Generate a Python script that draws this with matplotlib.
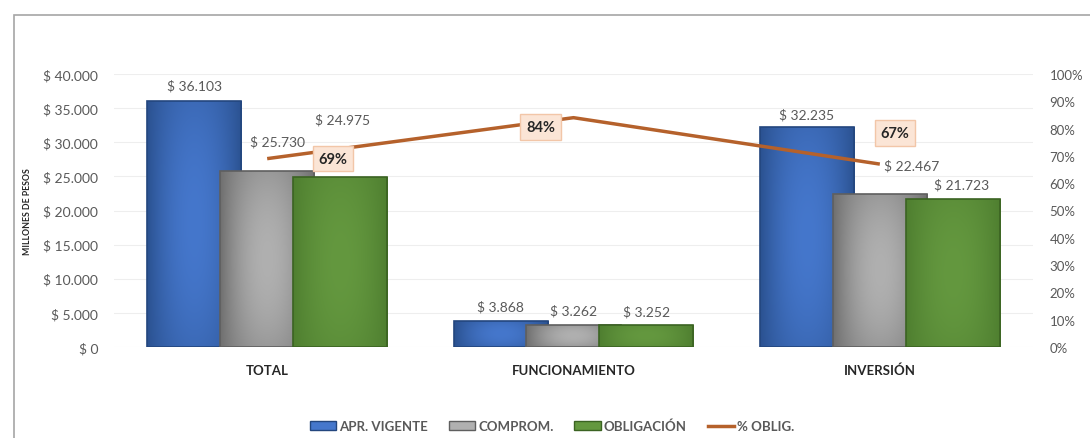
import numpy as np
import matplotlib
matplotlib.use("Agg")
import matplotlib.pyplot as plt
from matplotlib.patches import Rectangle, Patch
from matplotlib.lines import Line2D
from matplotlib.colors import to_rgb

plt.rcParams['font.family'] = ['Lato', 'DejaVu Sans']

# ---------------- data ----------------
categories = ["TOTAL", "FUNCIONAMIENTO", "INVERSIÓN"]
apr_vigente = [36103, 3868, 32235]
comprom = [25730, 3262, 22467]
obligacion = [24975, 3252, 21723]
pct_oblig = [0.69, 0.84, 0.67]
series_names = ["APR. VIGENTE", "COMPROM.", "OBLIGACIÓN"]
line_name = "% OBLIG."
y_ticks = [0, 5000, 10000, 15000, 20000, 25000, 30000, 35000, 40000]
pct_ticks = [0.0, 0.1, 0.2, 0.3, 0.4, 0.5, 0.6, 0.7, 0.8, 0.9, 1.0]

# ---------------- style ----------------
W, H = 1090, 439
fig = plt.figure(figsize=(W / 100, H / 100), dpi=100)
fig.patch.set_facecolor("white")
ax = fig.add_axes([114 / W, 1 - 348 / H, (1033 - 114) / W, (348 - 75) / H])

text_col = "#595959"
dark_text = "#262626"
bar_styles = [
    dict(dark="#2b5291", light="#4577cc", edge="#23467e"),
    dict(dark="#707070", light="#b0b0b0", edge="#5f5f5f"),
    dict(dark="#4f7f30", light="#64983f", edge="#3b6322"),
]
line_col = "#b5612b"
offsets = [-0.238, 0.0, 0.238]
width = 0.307

# label offsets in pixels (dx, dy) from bar top-centre
label_offsets = [
    [(0, 15), (0, 14), (0, 13)],
    [(10, 30), (0, 14), (32, 28)],
    [(2, 57), (0, 14), (9, 14)],
]
pct_label_offsets = [(66, 0), (-33, -9), (15, 31)]

x = np.arange(len(categories))
all_series = [apr_vigente, comprom, obligacion]

def gradient_img(dark, light, n=64):
    d = np.array(to_rgb(dark))
    l = np.array(to_rgb(light))
    t = np.linspace(0, 1, n)
    hx = 1 - (2 * np.abs(t - 0.5)) ** 2
    ty = np.linspace(0, 1, n)
    vy = 1 - 0.35 * (2 * np.abs(ty - 0.5)) ** 2
    inten = np.outer(vy, hx)
    img = d[None, None, :] + (l - d)[None, None, :] * inten[:, :, None]
    return np.clip(img, 0, 1)

for si, (vals, st) in enumerate(zip(all_series, bar_styles)):
    z = 2 + si
    bars = ax.bar(x + offsets[si], vals, width=width, color=st["light"],
                  edgecolor="none", zorder=z)
    img = gradient_img(st["dark"], st["light"])
    for b in bars:
        x0, y0 = b.get_x(), b.get_y()
        w, h = b.get_width(), b.get_height()
        im = ax.imshow(img, extent=[x0, x0 + w, y0, y0 + h], aspect="auto",
                       zorder=z + 0.1, interpolation="bilinear")
        im.set_clip_path(b)
    ax.bar(x + offsets[si], vals, width=width, fill=False,
           edgecolor=st["edge"], linewidth=1.2, zorder=z + 0.2)
    for ci, v in enumerate(vals):
        dx, dy = label_offsets[si][ci]
        s = "$ " + f"{v:,}".replace(",", ".")
        ax.annotate(s, xy=(x[ci] + offsets[si], v), xytext=(dx, dy),
                    textcoords="offset pixels", ha="center", va="center",
                    fontsize=10, color=text_col, zorder=10)

ax.set_xlim(-0.5, 2.5)
ax.set_ylim(0, 40000)
ax.set_yticks(y_ticks)
ax.set_yticklabels(["$ " + f"{v:,}".replace(",", ".") for v in y_ticks],
                   fontsize=10, color=text_col)
ax.set_xticks(x)
ax.set_xticklabels(categories, fontsize=9.5, fontweight="bold", color=dark_text)
ax.tick_params(axis="y", length=0, pad=11.5)
ax.tick_params(axis="x", length=0, pad=12)
for sp in ax.spines.values():
    sp.set_visible(False)
ax.grid(axis="y", color="#eeeeee", linewidth=0.8, zorder=0)
ax.set_axisbelow(True)
ax.set_facecolor("none")

ax2 = ax.twinx()
ax2.plot(x, pct_oblig, color=line_col, linewidth=2.5, zorder=5,
         solid_capstyle="butt")
ax2.set_ylim(0, 1)
ax2.set_yticks(pct_ticks)
ax2.set_yticklabels([f"{int(round(p * 100))}%" for p in pct_ticks],
                    fontsize=9.5, color=text_col)
ax2.tick_params(axis="y", length=0, pad=12)
for sp in ax2.spines.values():
    sp.set_visible(False)
for ci, p in enumerate(pct_oblig):
    dx, dy = pct_label_offsets[ci]
    ax2.annotate(f"{int(round(p * 100))}%", xy=(x[ci], p), xytext=(dx, dy),
                 textcoords="offset pixels", ha="center", va="center",
                 fontsize=10.5, fontweight="bold", color=dark_text, zorder=11,
                 bbox=dict(boxstyle="square,pad=0.4", facecolor="#fbe5d6",
                           edgecolor="#f2c6a8", linewidth=1))

fig.text(28 / W, 1 - 211.5 / H, "MILLONES DE PESOS", rotation=90,
         fontsize=6.3, fontweight="bold", color=dark_text, ha="center",
         va="center")

# outer frame (partially cropped)
fig.add_artist(Rectangle((14 / W, -0.2), 1.2, 1 - 16 / H + 0.2,
                         transform=fig.transFigure, fill=False,
                         edgecolor="#a6a6a6", linewidth=1.2))

handles = [Patch(facecolor=st["light"], edgecolor=st["edge"], linewidth=1)
           for st in bar_styles]
handles.append(Line2D([0], [0], color=line_col, linewidth=2.5))
leg = fig.legend(handles, series_names + [line_name], loc="center",
                 bbox_to_anchor=(552 / W, 1 - 427 / H), ncol=4, frameon=False,
                 prop=dict(weight="bold", size=9.5), handlelength=2.0,
                 handleheight=0.6, handletextpad=0.2, columnspacing=1.6)
for t in leg.get_texts():
    t.set_color(text_col)

fig.savefig("out.png", dpi=100)
